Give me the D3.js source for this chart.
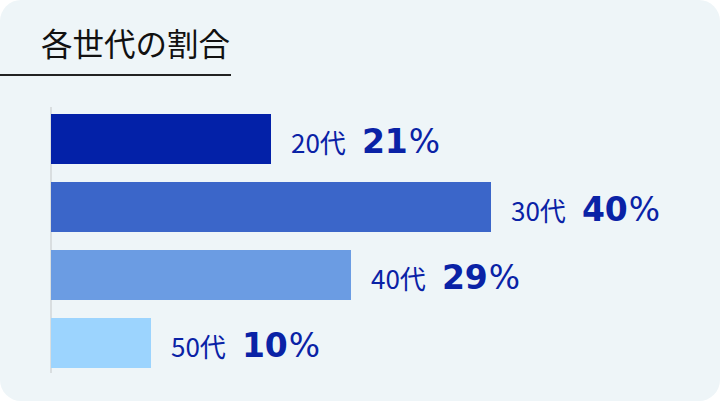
<!DOCTYPE html>
<html>
<head>
<meta charset="utf-8">
<script src="https://cdn.jsdelivr.net/npm/d3@7"></script>
<style>
    html, body { margin: 0; padding: 0; background: #ffffff; }
    svg { display: block; font-family: "Noto Sans CJK JP", "Noto Sans", sans-serif; }
</style>
</head>
<body>
<svg id="chart"></svg>
<script>
// Chart data
const title = "各世代の割合";
const generations = ["20代", "30代", "40代", "50代"];
const shares = [21, 40, 29, 10];           // shown as labels
const barValues = [22, 44, 30, 10];        // bar lengths
const barColors = ["#0321a8", "#3b66c9", "#6b9ce3", "#9cd4fe"];

const width = 720;
const height = 401;
const margin = { top: 105, left: 51 };

const svg = d3.select("#chart")
    .attr("width", width)
    .attr("height", height);

// Card background
svg.append("rect")
    .attr("x", 0)
    .attr("y", 0)
    .attr("width", width)
    .attr("height", height)
    .attr("rx", 21)
    .attr("fill", "#eef5f8");

// Title and underline
svg.append("text")
    .attr("x", 41)
    .attr("y", 56)
    .style("font-size", "31.5px")
    .style("fill", "#111111")
    .text(title);

svg.append("line")
    .attr("x1", 0)
    .attr("x2", 231)
    .attr("y1", 75)
    .attr("y2", 75)
    .attr("stroke", "#222222")
    .attr("stroke-width", 2);

const data = generations.map((g, i) => ({
    gen: g,
    share: shares[i],
    value: barValues[i],
    color: barColors[i]
}));

// Scales
const xScale = d3.scaleLinear()
    .domain([0, 44])
    .range([margin.left, 491]);

const yScale = d3.scaleBand()
    .domain(generations)
    .range([margin.top, margin.top + 68 * generations.length])
    .paddingInner(18 / 68)
    .paddingOuter(9 / 68);

// Baseline
svg.append("line")
    .attr("x1", xScale(0))
    .attr("x2", xScale(0))
    .attr("y1", 107)
    .attr("y2", 373)
    .attr("stroke", "#d2d6d8")
    .attr("stroke-width", 1.5);

// Bars
svg.selectAll(".bar")
    .data(data)
    .enter()
    .append("rect")
    .attr("class", "bar")
    .attr("x", xScale(0))
    .attr("y", d => yScale(d.gen))
    .attr("width", d => xScale(d.value) - xScale(0))
    .attr("height", yScale.bandwidth())
    .attr("fill", d => d.color);

// Labels
const labels = svg.selectAll(".bar-label")
    .data(data)
    .enter()
    .append("text")
    .attr("class", "bar-label")
    .attr("x", d => xScale(d.value) + 20)
    .attr("y", d => yScale(d.gen) + yScale.bandwidth() / 2 + 14)
    .style("fill", "#0a22a6");

labels.append("tspan")
    .style("font-size", "26px")
    .text(d => d.gen);

labels.append("tspan")
    .attr("dx", 16)
    .style("font-family", "'DejaVu Sans', sans-serif")
    .style("font-size", "33px")
    .style("font-weight", "bold")
    .text(d => d.share);

labels.append("tspan")
    .attr("dx", 1)
    .style("font-family", "'DejaVu Sans', sans-serif")
    .style("font-size", "33px")
    .style("font-weight", "normal")
    .text("%");
</script>
</body>
</html>
